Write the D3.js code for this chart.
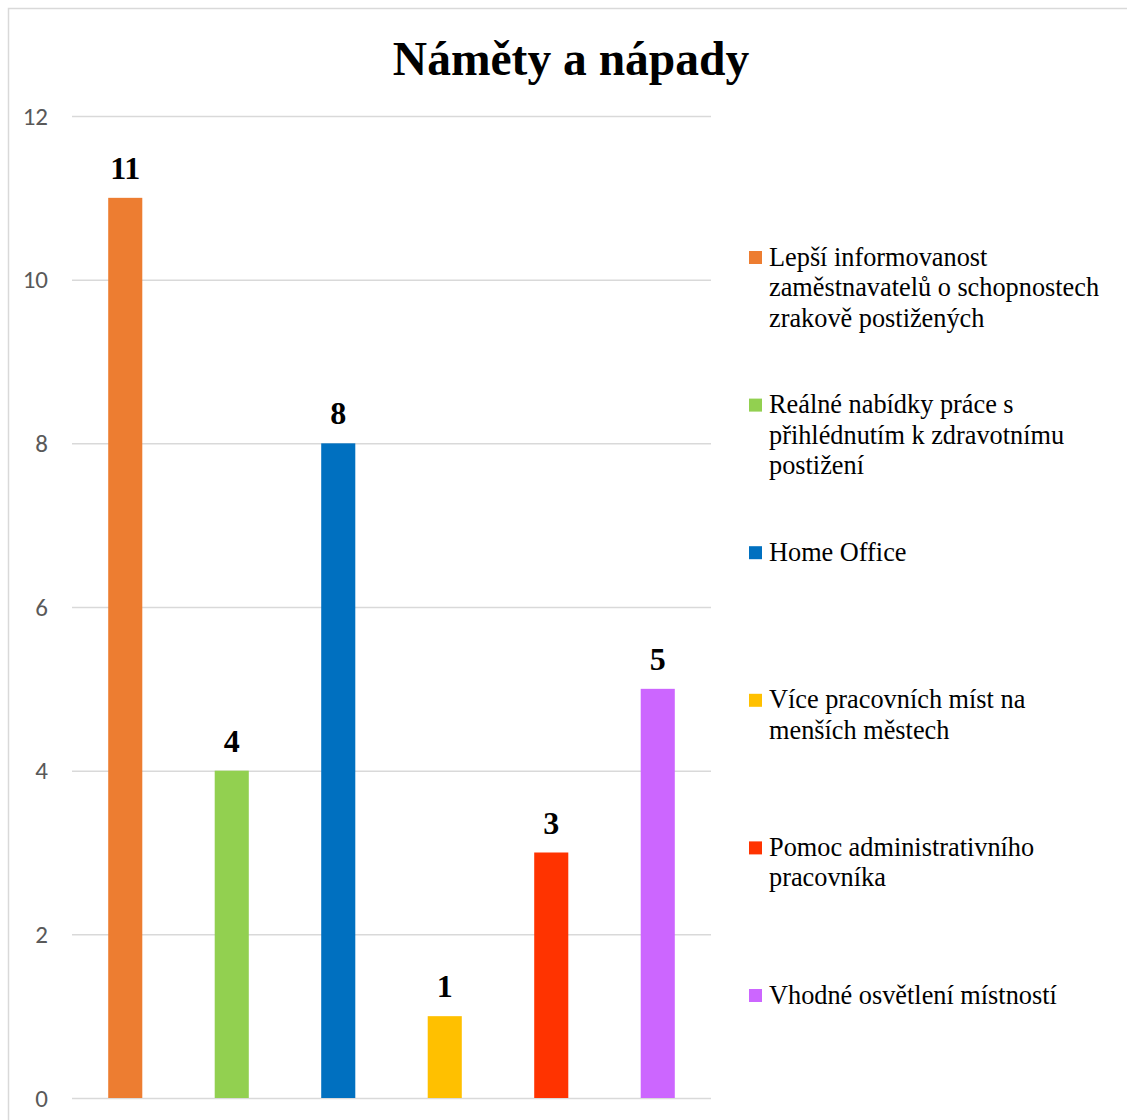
<!DOCTYPE html>
<html>
<head>
<meta charset="utf-8">
<script src="https://cdn.jsdelivr.net/npm/d3@7"></script>
<style>
  body { margin: 0; background: #fff; }
</style>
</head>
<body>
<div class="chart"></div>
<script>
// chart data
var categories = [
  "Lepší informovanost zaměstnavatelů o schopnostech zrakově postižených",
  "Reálné nabídky práce s přihlédnutím k zdravotnímu postižení",
  "Home Office",
  "Více pracovních míst na menších městech",
  "Pomoc administrativního pracovníka",
  "Vhodné osvětlení místností"
];
var legendLines = [
  ["Lepší informovanost", "zaměstnavatelů o schopnostech", "zrakově postižených"],
  ["Reálné nabídky práce s", "přihlédnutím k zdravotnímu", "postižení"],
  ["Home Office"],
  ["Více pracovních míst na", "menších městech"],
  ["Pomoc administrativního", "pracovníka"],
  ["Vhodné osvětlení místností"]
];
var values = [11, 4, 8, 1, 3, 5];
var colors = ["#ED7D31", "#92D050", "#0070C0", "#FFC000", "#FF3300", "#CC66FF"];
var yTicks = [0, 2, 4, 6, 8, 10, 12];

var W = 1127, H = 1120;
var svg = d3.select(".chart").append("svg")
    .attr("width", W)
    .attr("height", H);

// chart border
svg.append("rect")
    .attr("x", 8.5).attr("y", 8.5)
    .attr("width", W + 10).attr("height", H + 10)
    .attr("fill", "#fff")
    .attr("stroke", "#d9d9d9")
    .attr("stroke-width", 1.5);

// title
svg.append("text")
    .attr("x", 571)
    .attr("y", 75)
    .attr("text-anchor", "middle")
    .style("font-family", "'Liberation Serif', 'Times New Roman', serif")
    .style("font-weight", "bold")
    .style("font-size", "47.5px")
    .text("Náměty a nápady");

var plot = {left: 72, right: 711, top: 116, bottom: 1098};

var x = d3.scaleBand()
    .domain(categories)
    .range([plot.left, plot.right])
    .paddingInner(0.68)
    .paddingOuter(0.34);

var y = d3.scaleLinear()
    .domain([0, 12])
    .range([plot.bottom, plot.top]);

// gridlines + y labels
var yAxis = svg.append("g")
    .attr("transform", "translate(" + plot.left + ",0)")
    .call(d3.axisLeft(y).tickValues(yTicks).tickSize(-(plot.right - plot.left)).tickPadding(24));
yAxis.select(".domain").remove();
yAxis.selectAll(".tick line")
    .attr("stroke", "#d9d9d9")
    .attr("stroke-width", 1.5);
yAxis.selectAll(".tick text")
    .attr("fill", "#595959")
    .style("font-family", "Carlito, 'Open Sans', 'Liberation Sans', sans-serif")
    .style("font-size", "25px");

// bars
svg.append("g").selectAll("rect")
    .data(values)
    .enter().append("rect")
    .attr("x", function(d, i) { return x(categories[i]); })
    .attr("y", function(d) { return y(d); })
    .attr("width", x.bandwidth())
    .attr("height", function(d) { return y(0) - y(d); })
    .attr("fill", function(d, i) { return colors[i]; });

// value labels
svg.append("g").selectAll("text")
    .data(values)
    .enter().append("text")
    .attr("x", function(d, i) { return x(categories[i]) + x.bandwidth() / 2; })
    .attr("y", function(d) { return y(d) - 19; })
    .attr("text-anchor", "middle")
    .style("font-family", "'Liberation Serif', 'Times New Roman', serif")
    .style("font-weight", "bold")
    .style("font-size", "32px")
    .text(function(d) { return d; });

// legend
var legend = svg.append("g").selectAll("g")
    .data(legendLines)
    .enter().append("g")
    .attr("transform", function(d, i) { return "translate(749," + (257 + i * 147.6) + ")"; });

legend.append("rect")
    .attr("x", 0).attr("y", -6)
    .attr("width", 13).attr("height", 13)
    .attr("fill", function(d, i) { return colors[i]; });

legend.append("text")
    .style("font-family", "'Liberation Serif', 'Times New Roman', serif")
    .style("font-size", "26.3px")
    .attr("fill", "#000")
    .selectAll("tspan")
    .data(function(d) { return d; })
    .enter().append("tspan")
    .attr("x", 20)
    .attr("y", function(d, j) { return 8.5 + j * 30.5; })
    .text(function(d) { return d; });
</script>
</body>
</html>
